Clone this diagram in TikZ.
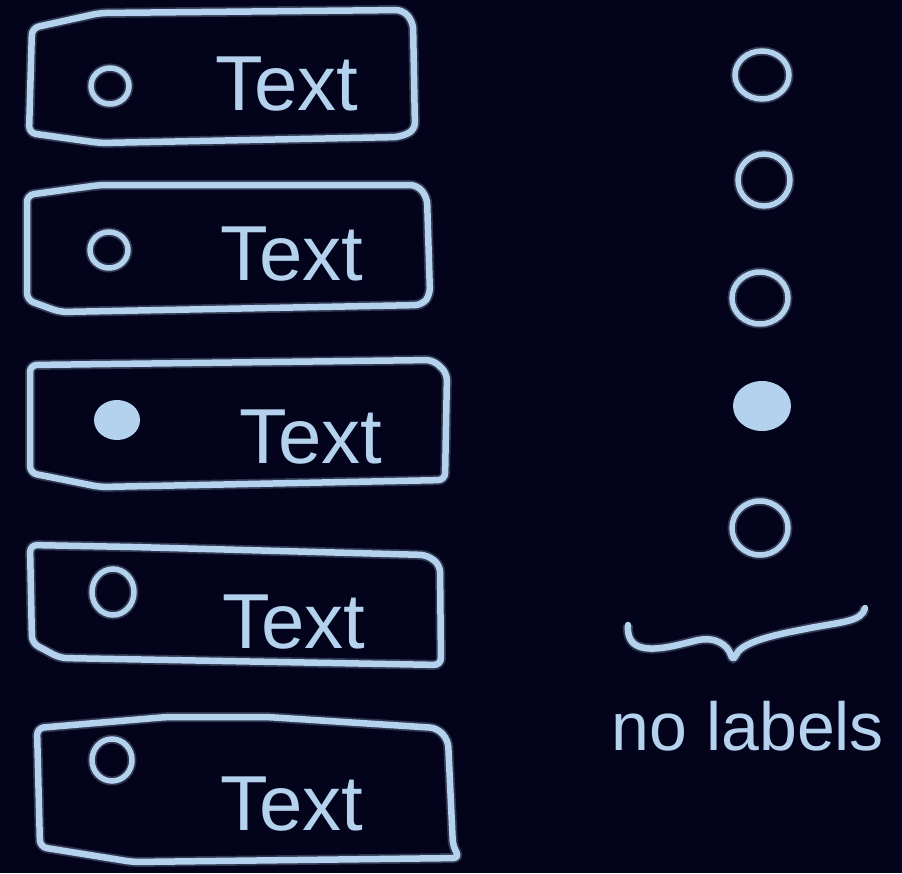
\documentclass[tikz,border=0pt]{standalone}
\usepackage{fontspec}
\setmainfont{Liberation Sans}
\definecolor{bgc}{HTML}{03041C}
\definecolor{chalk}{HTML}{B4D2EE}
\tikzset{
  sketch/.style={draw=chalk, line width=6.5pt, line cap=round, line join=round, rounded corners=7pt,
    preaction={draw=chalk, draw opacity=0.25, line width=10pt}},
  dotring/.style={draw=chalk, line width=5.5pt,
    preaction={draw=chalk, draw opacity=0.25, line width=9pt}},
  boxtext/.style={text=chalk, font=\fontsize{78}{80}\selectfont, anchor=base, inner sep=0pt},
  notetext/.style={text=chalk, font=\fontsize{68}{70}\selectfont, anchor=base, inner sep=0pt}
}
\begin{document}
\begin{tikzpicture}[x=1pt, y=-1pt]
\fill[bgc] (0,0) rectangle (902,873);
\useasboundingbox (0,0) rectangle (902,873);

% boxes
\draw[sketch] (32,28) -- (100,13) -- (403,10) -- (413,22) -- (415,130) -- (400,137) -- (100,143) -- (29,133) -- cycle;
\draw[sketch] (27,195) -- (100,185) -- (417,185) -- (427,197) -- (430,295) -- (422,305) -- (60,312) -- (27,300) -- cycle;
\draw[sketch] (30,365) -- (433,360) -- (447,373) -- (445,480) -- (100,487) -- (30,473) -- cycle;
\draw[sketch] (30,545) -- (133,547) -- (427,555) -- (440,565) -- (441,665) -- (60,658) -- (32,643) -- cycle;
\draw[sketch] (37,728) -- (167,717) -- (267,717) -- (437,728) -- (448,740) -- (453,847) -- (460,858) -- (133,862) -- (40,847) -- cycle;

% left radio dots
\draw[dotring] (110,86) ellipse [x radius=19, y radius=18];
\draw[dotring] (109,250) ellipse [x radius=19, y radius=18];
\fill[chalk] (117,420) ellipse [x radius=23, y radius=20];
\draw[dotring] (113,592) ellipse [x radius=21, y radius=23];
\draw[dotring] (112,760) ellipse [x radius=20, y radius=21];

% labels
\node[boxtext] (t1) at (287,110) {Text};
\node[boxtext] (t2) at (292,280) {Text};
\node[boxtext] (t3) at (311,463) {Text};
\node[boxtext] (t4) at (294,648) {Text};
\node[boxtext] (t5) at (292,830) {Text};

% right radio dots without labels
\draw[dotring] (762,75) ellipse [x radius=27, y radius=24];
\draw[dotring] (764,180) ellipse [x radius=26, y radius=26];
\draw[dotring] (760,298) ellipse [x radius=28, y radius=26];
\fill[chalk] (762,406) ellipse [x radius=29, y radius=25];
\draw[dotring] (760,528) ellipse [x radius=28, y radius=27];

% brace
\coordinate (bl) at (628,625);
\coordinate (bt) at (733,662);
\coordinate (br) at (865,608);
\draw[sketch] (bl) .. controls (626,652) and (650,652) .. (690,642)
  .. controls (715,636) and (728,645) .. (bt)
  .. controls (740,645) and (760,638) .. (800,630)
  .. controls (840,622) and (862,622) .. (br);

\node[notetext] (nl) at (748,750) {no labels};
\end{tikzpicture}
\end{document}
